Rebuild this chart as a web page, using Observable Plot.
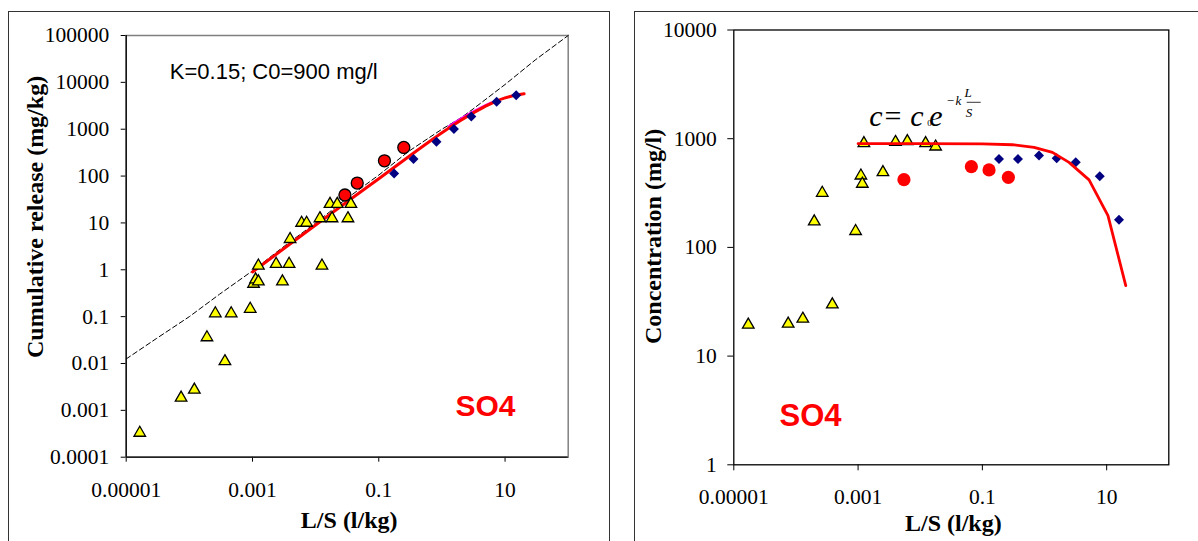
<!DOCTYPE html>
<html>
<head>
<meta charset="utf-8">
<script src="https://cdn.jsdelivr.net/npm/d3@7"></script>
<script src="https://cdn.jsdelivr.net/npm/@observablehq/plot@0.6"></script>
<style>
  html, body { margin: 0; padding: 0; background: #fff; }
  #page { position: relative; width: 1198px; height: 541px; overflow: hidden; background: #fff; }
  .box { position: absolute; border: 1.5px solid #333; box-sizing: border-box; }
  .panel { position: absolute; top: 0; }
  .panel svg { display: block; }
</style>
</head>
<body>
<div id="page">
  <div class="box" style="left:8px; top:11px; width:602px; height:560px;"></div>
  <div class="box" style="left:634px; top:11px; width:600px; height:560px;"></div>
  <div class="panel" id="left" style="left:0px;"></div>
  <div class="panel" id="right" style="left:600px;"></div>
</div>
<script>
// Shared L/S axis
const lsTicks = [1e-5, 1e-3, 0.1, 10];
const lsTickLabels = ["0.00001", "0.001", "0.1", "10"];
const lsDomain = [1e-5, 100];

// Cumulative release axis
const releaseTicks = [1e-4, 1e-3, 1e-2, 0.1, 1, 10, 100, 1000, 1e4, 1e5];
const releaseTickLabels = ["0.0001", "0.001", "0.01", "0.1", "1", "10", "100", "1000", "10000", "100000"];

// Concentration axis
const concTicks = [1, 10, 100, 1000, 10000];
const concTickLabels = ["1", "10", "100", "1000", "10000"];

// Cumulative release (mg/kg) vs L/S
const releaseTriLS = [1.64e-5, 7.4e-5, 1.2e-4, 1.9e-4, 2.58e-4, 4.6e-4, 3.66e-4, 9.2e-4, 1.04e-3, 1.12e-3, 1.24e-3, 1.24e-3, 2.37e-3, 2.98e-3, 3.8e-3, 3.94e-3, 6.0e-3, 7.2e-3, 1.17e-2, 1.26e-2, 1.69e-2, 1.82e-2, 2.2e-2, 3.25e-2, 3.62e-2];
const releaseTriVal = [3.3e-4, 1.85e-3, 2.74e-3, 0.036, 0.117, 0.117, 0.0111, 0.146, 0.50, 0.62, 0.56, 1.22, 1.33, 0.56, 1.33, 4.5, 10, 10, 12.5, 1.22, 25.3, 12.5, 25.3, 12.5, 25.3];
const releaseCircLS = [0.0291, 0.0456, 0.123, 0.249];
const releaseCircVal = [39.4, 71, 212, 408];
const releaseDiaLS = [0.175, 0.355, 0.82, 1.55, 2.92, 7.35, 15.0];
const releaseDiaVal = [114, 230, 538, 1005, 1866, 3837, 5333];
const releaseModelLS = [0.001, 0.003, 0.01, 0.03, 0.1, 0.3, 1, 2, 3, 5, 7, 10, 15, 20];
const releaseModelVal = [0.9, 2.7, 9, 27, 88, 262, 840, 1550, 2150, 3150, 3900, 4650, 5350, 5700];
const releaseAltLS = [1.3, 2, 3, 4.5, 6];
const releaseAltVal = [1130, 1640, 2260, 3020, 3620];
const releaseRefLS = [1e-5, 3e-5, 1e-4, 3e-4, 0.001, 0.003, 0.01, 0.03, 0.1, 0.3, 1, 2, 3, 5, 10, 30, 100];
const releaseRefVal = [0.0125, 0.034, 0.1, 0.3, 0.95, 3, 10, 32, 105, 340, 1000, 1750, 2600, 4400, 9000, 30000, 100000];

// Concentration (mg/l) vs L/S
const concTriLS = [1.71e-5, 7.5e-5, 1.29e-4, 3.85e-4, 1.97e-4, 2.65e-4, 9.12e-4, 1.11e-3, 1.17e-3, 2.51e-3, 1.24e-3, 4.0e-3, 6.2e-3, 1.22e-2, 1.77e-2];
const concTriVal = [19.4, 19.8, 22, 29.8, 173, 317, 141, 457, 384, 491, 906, 930, 946, 906, 845];
const concCircLS = [5.47e-3, 0.0665, 0.128, 0.262];
const concCircVal = [420, 553, 516, 441];
const concDiaLS = [0.185, 0.374, 0.815, 1.57, 3.18, 7.75, 15.8];
const concDiaVal = [651, 651, 699, 660, 606, 451, 180];
const concModelLS = [0.001, 0.01, 0.1, 0.304, 0.678, 1.34, 2.48, 5.21, 10.5, 20.3];
const concModelVal = [900, 900, 898, 880, 832, 749, 606, 418, 196, 44.5];

const modelText = "K=0.15; C0=900 mg/l";
const xTitle = "L/S (l/kg)";
const releaseTitle = "Cumulative release (mg/kg)";
const concTitle = "Concentration (mg/l)";
const speciesLabel = "SO4";

// Tilted square used for the diamond markers
const squareDiamond = {
  draw(context, size) {
    const h = Math.sqrt(size / Math.PI);
    context.moveTo(0, -h);
    context.lineTo(h, 0);
    context.lineTo(0, h);
    context.lineTo(-h, 0);
    context.closePath();
  }
};

const serif = "Liberation Serif, Times New Roman, serif";
const sans = "Liberation Sans, Arial, sans-serif";
const fmt = (ticks, labels) => d => labels[ticks.indexOf(d)];
const label = (t, opts) => Plot.text([t], {text: d => d, lineAnchor: "middle", fill: "#000", ...opts});

const leftPlot = Plot.plot({
  width: 600,
  height: 541,
  marginLeft: 125.7,
  marginRight: 32.3,
  marginTop: 35,
  marginBottom: 84.3,
  style: {fontFamily: serif, fontSize: "21.5px", color: "#000", background: "transparent", overflow: "visible"},
  x: {type: "log", domain: lsDomain, ticks: lsTicks, tickFormat: fmt(lsTicks, lsTickLabels), tickSize: 5, tickPadding: 20, label: null},
  y: {type: "log", domain: [releaseTicks[0], releaseTicks[releaseTicks.length - 1]], ticks: releaseTicks, tickFormat: fmt(releaseTicks, releaseTickLabels), tickSize: 5, tickPadding: 12, label: null},
  marks: [
    Plot.frame({stroke: "#808080", strokeWidth: 1.5}),
    Plot.ruleX([lsDomain[0]], {stroke: "#000", strokeWidth: 1.3}),
    Plot.ruleY([releaseTicks[0]], {stroke: "#000", strokeWidth: 1.3}),
    Plot.line(releaseRefLS, {x: releaseRefLS, y: releaseRefVal, stroke: "#000", strokeWidth: 1, strokeDasharray: "5,3"}),
    Plot.line(releaseAltLS, {x: releaseAltLS, y: releaseAltVal, stroke: "#ff00ff", strokeWidth: 3, curve: "catmull-rom"}),
    Plot.line(releaseModelLS, {x: releaseModelLS, y: releaseModelVal, stroke: "#ff0000", strokeWidth: 3, curve: "catmull-rom"}),
    Plot.dot(releaseTriLS, {x: releaseTriLS, y: releaseTriVal, symbol: "triangle", r: 4.3, fill: "#ffff00", stroke: "#000", strokeWidth: 1.3}),
    Plot.dot(releaseCircLS, {x: releaseCircLS, y: releaseCircVal, symbol: "circle", r: 6, fill: "#ff0000", stroke: "#000", strokeWidth: 1.3}),
    Plot.dot(releaseDiaLS, {x: releaseDiaLS, y: releaseDiaVal, symbol: squareDiamond, r: 5, fill: "#000080"}),
    label(modelText, {frameAnchor: "top-left", textAnchor: "start", dx: 43.6, dy: 36.3, fontFamily: sans, fontSize: 22}),
    label(speciesLabel, {frameAnchor: "top-left", textAnchor: "start", dx: 329.3, dy: 370.4, fontFamily: sans, fontSize: 30, fontWeight: "bold", fill: "#ff0000"}),
    label(xTitle, {frameAnchor: "bottom", textAnchor: "middle", dx: 2, dy: 63, fontFamily: serif, fontSize: 24, fontWeight: "bold"}),
    label(releaseTitle, {frameAnchor: "left", textAnchor: "middle", rotate: -90, dx: -90.5, dy: -29.4, fontFamily: serif, fontSize: 24, fontWeight: "bold"})
  ]
});
document.getElementById("left").appendChild(leftPlot);

const rightPlot = Plot.plot({
  width: 598,
  height: 541,
  marginLeft: 133.3,
  marginRight: 29.7,
  marginTop: 29.5,
  marginBottom: 76.7,
  style: {fontFamily: serif, fontSize: "21.5px", color: "#000", background: "transparent", overflow: "visible"},
  x: {type: "log", domain: lsDomain, ticks: lsTicks, tickFormat: fmt(lsTicks, lsTickLabels), tickSize: 6, tickPadding: 18, label: null},
  y: {type: "log", domain: [concTicks[0], concTicks[concTicks.length - 1]], ticks: concTicks, tickFormat: fmt(concTicks, concTickLabels), tickSize: 6, tickPadding: 11, label: null},
  marks: [
    Plot.frame({stroke: "#000", strokeWidth: 1.3}),
    Plot.dot(concTriLS, {x: concTriLS, y: concTriVal, symbol: "triangle", r: 4.3, fill: "#ffff00", stroke: "#000", strokeWidth: 1.3}),
    Plot.dot(concCircLS, {x: concCircLS, y: concCircVal, symbol: "circle", r: 6.6, fill: "#ff0000"}),
    Plot.dot(concDiaLS, {x: concDiaLS, y: concDiaVal, symbol: squareDiamond, r: 5, fill: "#000080"}),
    Plot.line(concModelLS, {x: concModelLS, y: concModelVal, stroke: "#ff0000", strokeWidth: 2.8}),
    label(speciesLabel, {frameAnchor: "top-left", textAnchor: "start", dx: 45.7, dy: 385.6, fontFamily: sans, fontSize: 31, fontWeight: "bold", fill: "#ff0000"}),
    label(xTitle, {frameAnchor: "bottom", textAnchor: "middle", dx: 2, dy: 58.7, fontFamily: serif, fontSize: 24, fontWeight: "bold"}),
    label(concTitle, {frameAnchor: "left", textAnchor: "middle", rotate: -90, dx: -80.7, dy: -11, fontFamily: serif, fontSize: 24, fontWeight: "bold"})
  ]
});
document.getElementById("right").appendChild(rightPlot);

// Leaching model formula  c = c0 e^(-k L/S), set as two text runs
const eq = d3.select(rightPlot).append("g")
  .attr("font-family", serif)
  .attr("fill", "#000");
const run = (y) => eq.append("text").attr("y", y);
const part = (textEl, t, x, size, italic, y) => {
  const s = textEl.append("tspan").attr("x", x).style("font-size", size + "px")
    .style("font-style", italic ? "italic" : "normal").text(t);
  if (y !== undefined) s.attr("y", y);
  return s;
};
const base = run(126);
part(base, "c", 276, 30, true);
part(base, "=", 293, 30, false);
part(base, "c", 317, 30, true);
part(base, "0", 329.5, 9, false);
part(base, "e", 336, 30, true);
const expo = run(105);
part(expo, "\u2212", 350.5, 13, false);
part(expo, "k", 358.5, 13, true);
part(expo, "L", 368, 13, true, 96.7);
part(expo, "S", 369, 13, true, 116.7);
eq.append("line").attr("x1", 366.7).attr("x2", 380.7).attr("y1", 102.3).attr("y2", 102.3)
  .attr("stroke", "#000").attr("stroke-width", 0.8);
</script>
</body>
</html>
